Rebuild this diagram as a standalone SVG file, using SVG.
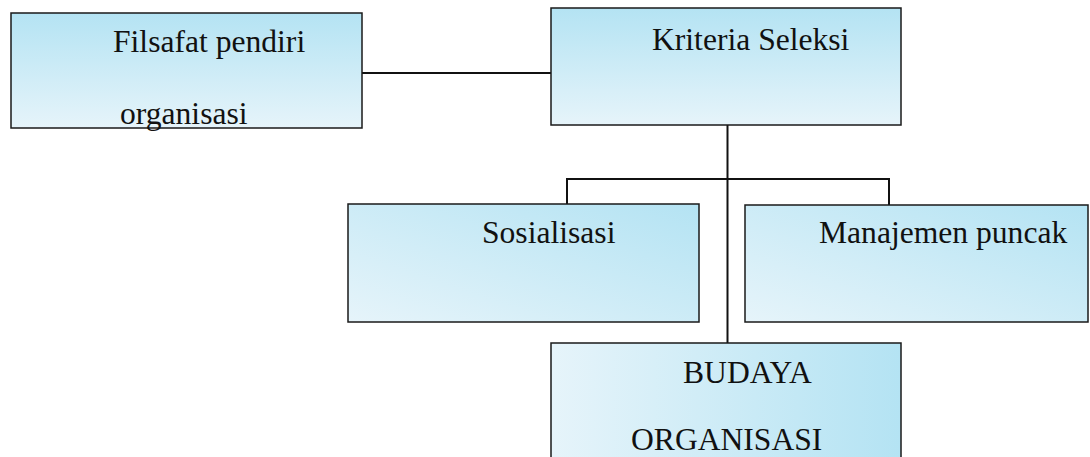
<svg xmlns="http://www.w3.org/2000/svg" width="1090" height="457" viewBox="0 0 1090 457">
<defs>
<linearGradient id="gV" x1="0" y1="0" x2="0" y2="1">
<stop offset="0" stop-color="#b4e3f3"/>
<stop offset="1" stop-color="#e6f4fa"/>
</linearGradient>
<linearGradient id="gD" x1="1" y1="0" x2="0" y2="1">
<stop offset="0" stop-color="#b4e3f3"/>
<stop offset="1" stop-color="#e6f4fa"/>
</linearGradient>
<linearGradient id="gH" x1="0" y1="0" x2="1" y2="0">
<stop offset="0" stop-color="#e6f4fa"/>
<stop offset="1" stop-color="#b4e3f3"/>
</linearGradient>
<style>
.box{stroke:#1a1a1a;stroke-width:1.5}
.t{font-family:"Liberation Serif","Times New Roman",serif;font-size:31.6px;fill:#111}
.c{stroke:#111;stroke-width:2;fill:none}
</style>
</defs>
<g id="connectors">
<line class="c" x1="362" y1="73" x2="551" y2="73"/>
<line class="c" x1="727.5" y1="125" x2="727.5" y2="343"/>
<polyline class="c" points="567,205 567,179 889,179 889,205"/>
</g>
<g id="filsafat">
<rect class="box" x="11" y="13" width="351" height="115" fill="url(#gV)"/>
<text class="t" x="113" y="52">Filsafat pendiri</text>
<text class="t" x="120" y="124">organisasi</text>
</g>
<g id="kriteria">
<rect class="box" x="551" y="8" width="350" height="117" fill="url(#gV)"/>
<text class="t" x="652" y="50">Kriteria Seleksi</text>
</g>
<g id="sosialisasi">
<rect class="box" x="348" y="204" width="351" height="118" fill="url(#gD)"/>
<text class="t" x="482" y="243">Sosialisasi</text>
</g>
<g id="manajemen">
<rect class="box" x="745" y="205" width="343" height="117" fill="url(#gD)"/>
<text class="t" x="819" y="243">Manajemen puncak</text>
</g>
<g id="budaya">
<rect class="box" x="551" y="343" width="350" height="130" fill="url(#gH)"/>
<text class="t" x="683" y="383">BUDAYA</text>
<text class="t" x="631" y="450">ORGANISASI</text>
</g>
</svg>
